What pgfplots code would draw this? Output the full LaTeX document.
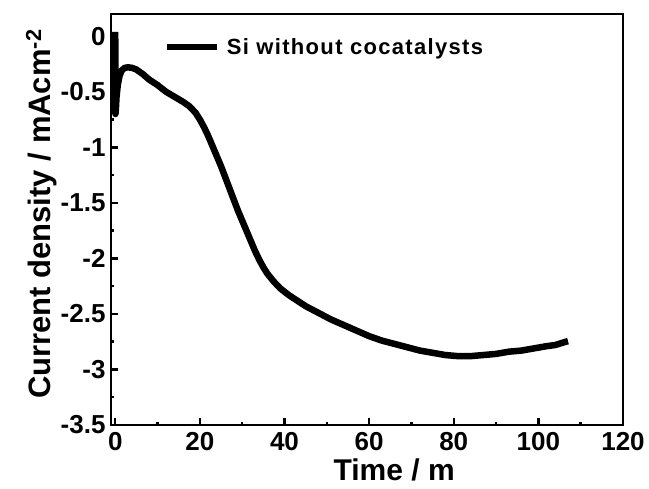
\documentclass[border=0pt]{standalone}
\usepackage{pgfplots}
\pgfplotsset{compat=1.18}
\usepackage{fontspec}
\setmainfont{Liberation Sans}
\newfontfamily\legfont[LetterSpace=6]{Liberation Sans Bold}

% Chronoamperometry of bare Si photocathode
\pgfplotstableread{
t j
0.00 0.04
0.05 -0.70
0.15 -0.66
0.30 -0.55
0.60 -0.44
1.00 -0.36
1.50 -0.31
2.20 -0.285
3.00 -0.28
4.00 -0.285
5.00 -0.30
6.50 -0.34
8.00 -0.39
10 -0.44
12 -0.50
14 -0.545
16 -0.59
17.5 -0.63
19 -0.69
20 -0.75
21 -0.82
22 -0.90
23 -0.99
24 -1.08
25 -1.17
26 -1.27
27 -1.37
28 -1.47
29 -1.57
30 -1.66
31 -1.75
32 -1.84
33 -1.93
34 -2.01
35 -2.08
36 -2.14
37.5 -2.21
39 -2.27
41 -2.33
43 -2.38
45 -2.43
48 -2.49
51 -2.55
54 -2.60
57 -2.65
60 -2.70
63 -2.74
66 -2.77
69 -2.80
72 -2.83
75 -2.85
78 -2.87
81 -2.88
84 -2.88
87 -2.87
90 -2.86
93 -2.84
96 -2.83
99 -2.81
102 -2.79
104 -2.78
106.5 -2.75
107 -2.745
}\sidata

\begin{document}
\begin{tikzpicture}
\begin{axis}[
  scale only axis,
  width=512pt, height=411pt,
  xmin=-1, xmax=120,
  ymin=-3.5, ymax=0.2,
  xtick={0,20,...,120},
  ytick={-3.5,-3,...,0},
  minor x tick num=1,
  minor y tick num=1,
  xtick pos=bottom, ytick pos=left,
  tick align=inside,
  major tick length=7pt,
  minor tick length=3.5pt,
  every tick/.style={black, line width=2.5pt},
  axis line style={line width=2.5pt},
  /pgf/number format/assume math mode=true,
  tick label style={font=\fontsize{26}{26}\selectfont\bfseries},
  xticklabel style={yshift=-4pt},
  yticklabel style={xshift=-2pt},
  xlabel={Time / m},
  ylabel={Current density / mAcm\textsuperscript{-2}},
  xlabel style={font=\fontsize{30}{30}\selectfont\bfseries,
    at={(axis description cs:0.553,-0.134)}, anchor=base},
  ylabel style={font=\fontsize{31}{31}\selectfont\bfseries,
    at={(axis description cs:-0.119,0.513)}, anchor=base},
  legend image code/.code={\draw[#1] (0pt,0pt) -- (50pt,0pt);},
  legend style={at={(axis description cs:0.102,0.92)}, anchor=west,
    draw=none, fill=none, inner sep=0pt,
    font=\legfont\fontsize{22}{22}\selectfont,
    nodes={inner xsep=7pt, inner ysep=0pt}},
  legend cell align=left,
]
\addplot[black, line width=6.5pt, line join=round] table[x=t, y=j] {\sidata};
\addlegendentry{Si without cocatalysts}
\end{axis}
\pgfresetboundingbox
\path[use as bounding box] ([shift={(-111pt,-63pt)}]current axis.south west) rectangle ([shift={(26pt,14pt)}]current axis.north east);
\end{tikzpicture}
\end{document}
